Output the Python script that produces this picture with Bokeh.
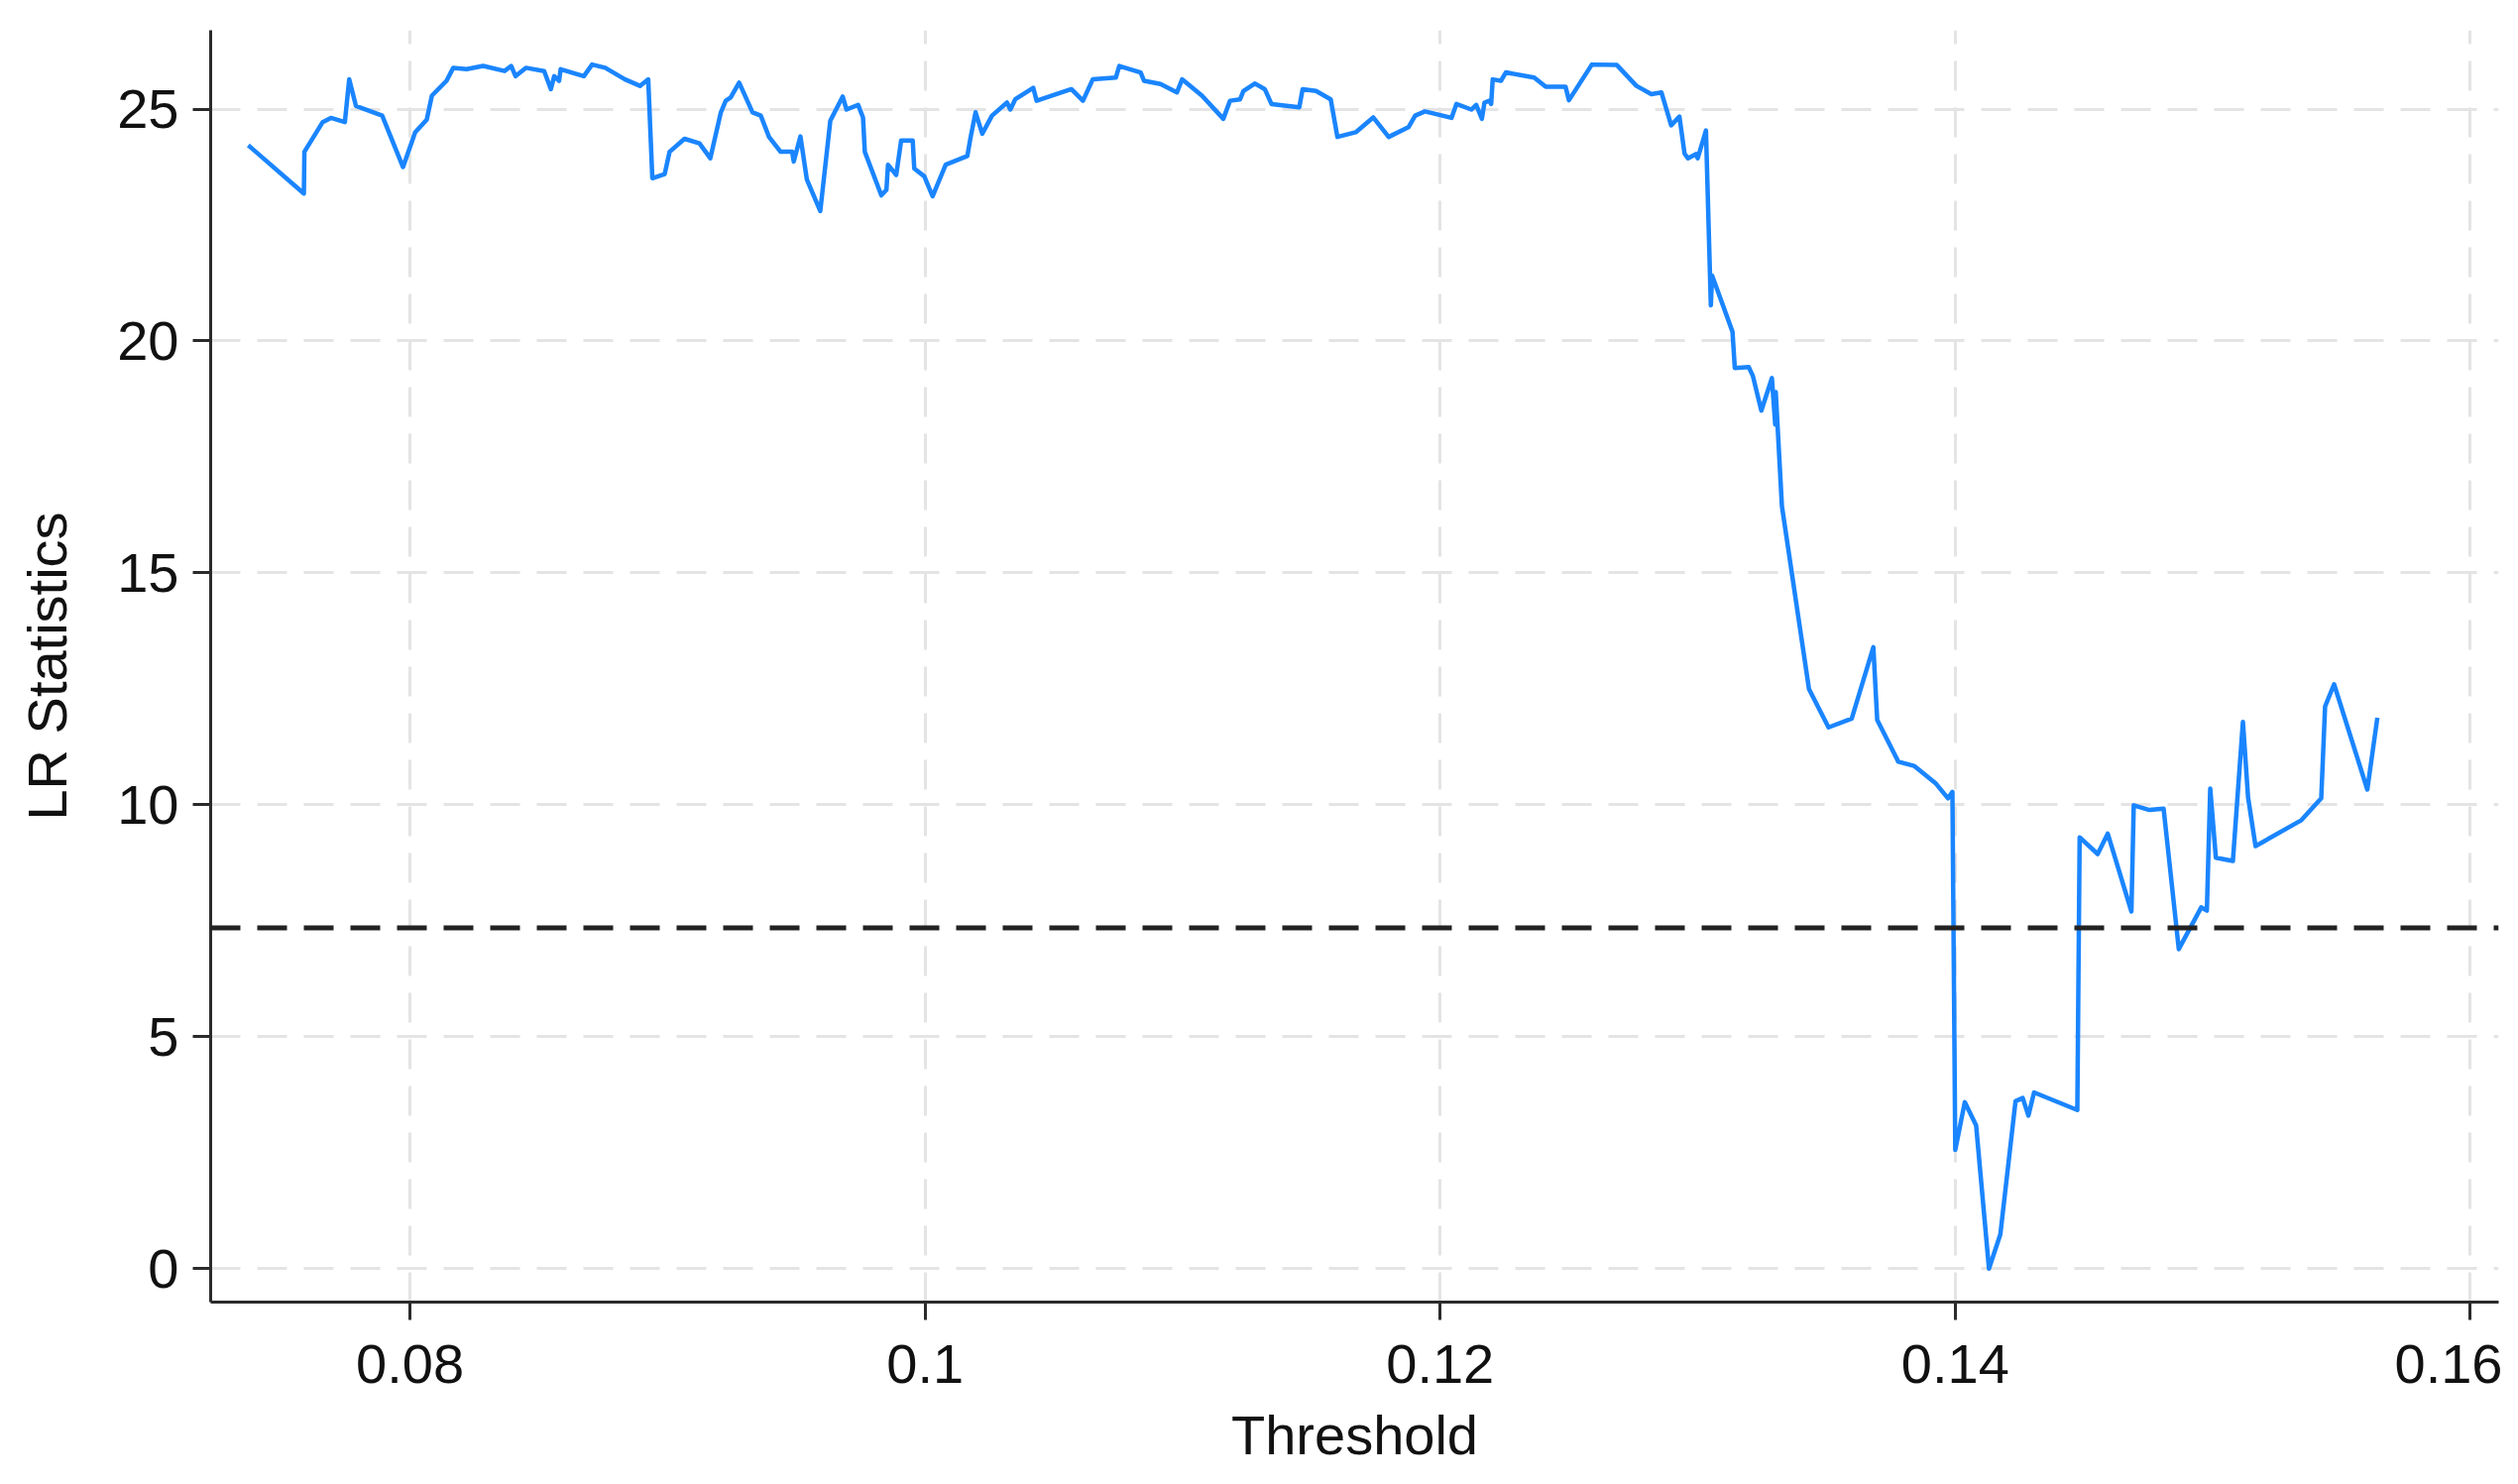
from bokeh.plotting import figure
from bokeh.models import Range1d, FixedTicker, Span
from bokeh.embed import file_html
from bokeh.resources import INLINE

# ---- data ----
threshold = [
    0.07372, 0.07588, 0.0759, 0.07661, 0.07693, 0.07747, 0.07764, 0.0779, 0.07892, 0.07973,
    0.0802, 0.08065, 0.08085, 0.08142, 0.08168, 0.0822, 0.08284, 0.08367, 0.08393, 0.0841,
    0.0845, 0.08521, 0.08547, 0.0856, 0.08579, 0.08585, 0.08675, 0.08707, 0.08758, 0.08835,
    0.08893, 0.08925, 0.08941, 0.08989, 0.09008, 0.09066, 0.09124, 0.09166, 0.09207, 0.09226,
    0.09245, 0.09278, 0.0933, 0.09362, 0.09394, 0.09439, 0.09484, 0.0949, 0.09516, 0.09541,
    0.09593, 0.09632, 0.0968, 0.09695, 0.0974, 0.09759, 0.09766, 0.0983, 0.0985, 0.09856,
    0.09888, 0.09907, 0.09952, 0.09958, 0.09997, 0.10029, 0.1008, 0.10164, 0.10177, 0.10196,
    0.10222, 0.1026, 0.10318, 0.10331, 0.1035, 0.1042, 0.10433, 0.10568, 0.10613, 0.10651,
    0.10741, 0.10754, 0.10837, 0.1085, 0.10914, 0.10978, 0.10998, 0.11075, 0.11158, 0.11184,
    0.11223, 0.11236, 0.1128, 0.11319, 0.11345, 0.11453, 0.11466, 0.11518, 0.11575, 0.11601,
    0.11672, 0.1174, 0.118, 0.11877, 0.11903, 0.11941, 0.12044, 0.12063, 0.12121, 0.1214,
    0.12162, 0.12172, 0.12191, 0.12198, 0.12204, 0.12236, 0.12255, 0.12365, 0.1241, 0.12487,
    0.125, 0.12589, 0.12686, 0.12762, 0.1282, 0.12859, 0.12897, 0.12929, 0.12949, 0.12962,
    0.12993, 0.13, 0.13032, 0.13051, 0.13056, 0.13135, 0.13144, 0.13198, 0.13214, 0.13247,
    0.13288, 0.13301, 0.13303, 0.13327, 0.13432, 0.13508, 0.13598, 0.13682, 0.13697, 0.13779,
    0.1384, 0.13923, 0.13972, 0.13989, 0.14, 0.14037, 0.14081, 0.14131, 0.14175, 0.14234,
    0.14262, 0.14284, 0.14306, 0.14474, 0.14483, 0.14553, 0.14592, 0.14684, 0.14693, 0.14754,
    0.14809, 0.14868, 0.14955, 0.14977, 0.1499, 0.15012, 0.15078, 0.15117, 0.15137, 0.15166,
    0.15344, 0.15421, 0.15436, 0.15471, 0.156, 0.15639,
]
lr_stat = [
    24.22, 23.18, 24.08, 24.72, 24.81, 24.72, 25.64, 25.07, 24.86, 23.75,
    24.5, 24.77, 25.29, 25.61, 25.89, 25.86, 25.93, 25.82, 25.93, 25.71,
    25.89, 25.82, 25.43, 25.71, 25.61, 25.86, 25.71, 25.96, 25.89, 25.64,
    25.5, 25.64, 23.51, 23.6, 24.08, 24.36, 24.26, 23.94, 24.93, 25.18,
    25.25, 25.57, 24.93, 24.86, 24.4, 24.08, 24.08, 23.87, 24.41, 23.48,
    22.8, 24.75, 25.27, 24.99, 25.09, 24.82, 24.08, 23.14, 23.26, 23.8,
    23.58, 24.32, 24.32, 23.72, 23.55, 23.12, 23.8, 23.99, 24.4, 24.93,
    24.47, 24.86, 25.14, 24.99, 25.21, 25.46, 25.18, 25.43, 25.18, 25.64,
    25.68, 25.93, 25.79, 25.61, 25.54, 25.36, 25.64, 25.29, 24.79, 25.18,
    25.21, 25.39, 25.55, 25.43, 25.11, 25.04, 25.43, 25.39, 25.21, 24.4,
    24.5, 24.82, 24.4, 24.61, 24.86, 24.95, 24.81, 25.11, 24.99, 25.09,
    24.79, 25.14, 25.18, 25.11, 25.64, 25.61, 25.79, 25.68, 25.48, 25.48,
    25.19, 25.96, 25.95, 25.5, 25.32, 25.36, 24.65, 24.84, 24.04, 23.94,
    24.03, 23.94, 24.54, 20.77, 21.41, 20.2, 19.42, 19.44, 19.25, 18.5,
    19.2, 18.2, 18.9, 16.44, 12.5, 11.67, 11.86, 13.4, 11.83, 10.93,
    10.84, 10.47, 10.14, 10.28, 2.56, 3.59, 3.09, 0.0, 0.74, 3.61,
    3.68, 3.3, 3.8, 3.42, 9.3, 8.94, 9.38, 7.7, 9.99, 9.89,
    9.92, 6.89, 7.79, 7.72, 10.35, 8.86, 8.79, 11.79, 10.16, 9.11,
    9.67, 10.14, 12.12, 12.6, 10.33, 11.88,
]
critical_value = 7.35
x_ticks = [0.08, 0.1, 0.12, 0.14, 0.16]
x_tick_labels = ["0.08", "0.1", "0.12", "0.14", "0.16"]
y_ticks = [0, 5, 10, 15, 20, 25]

FONT = "Liberation Sans"
FS = "56px"

p = figure(
    width=2524, height=1481,
    output_backend="svg", toolbar_location=None,
    x_range=Range1d(0.07226, 0.1611), y_range=Range1d(-0.72, 26.7),
    min_border_left=212, min_border_right=4, min_border_top=30, min_border_bottom=166,
    background_fill_color="white", border_fill_color="white",
)
p.outline_line_color = None

# grids
for g in (p.xgrid, p.ygrid):
    g.grid_line_color = "#e4e4e4"
    g.grid_line_width = 3
    g.grid_line_dash = "30 17"
p.xgrid.ticker = FixedTicker(ticks=x_ticks)
p.ygrid.ticker = FixedTicker(ticks=y_ticks)

# axes
p.xaxis.ticker = FixedTicker(ticks=x_ticks)
p.xaxis.major_label_overrides = {t: l for t, l in zip(x_ticks, x_tick_labels)}
p.yaxis.ticker = FixedTicker(ticks=y_ticks)
for ax in (p.xaxis[0], p.yaxis[0]):
    ax.axis_line_color = "#2b2b2b"
    ax.axis_line_width = 3
    ax.major_tick_line_color = "#2b2b2b"
    ax.major_tick_line_width = 3
    ax.major_tick_out = 18
    ax.major_tick_in = 0
    ax.minor_tick_line_color = None
    ax.major_label_text_font = FONT
    ax.major_label_text_font_size = FS
    ax.major_label_text_color = "#111111"
    ax.axis_label_text_font = FONT
    ax.axis_label_text_font_size = FS
    ax.axis_label_text_font_style = "normal"
    ax.axis_label_text_color = "#111111"

p.xaxis.axis_label = "Threshold"
p.yaxis.axis_label = "LR Statistics"
p.xaxis.major_label_standoff = 25
p.xaxis.axis_label_standoff = 18
p.yaxis.major_label_standoff = 14
p.yaxis.axis_label_standoff = 36
p.yaxis.major_label_orientation = "horizontal"

# critical value reference line
p.add_layout(Span(location=critical_value, dimension="width",
                  line_color="#222222", line_width=5, line_dash="30 17"))

# LR statistic curve
p.line(threshold, lr_stat, line_color="#1a85ff", line_width=4.5, line_join="round")

open("out.html", "w").write(file_html(p, INLINE))
